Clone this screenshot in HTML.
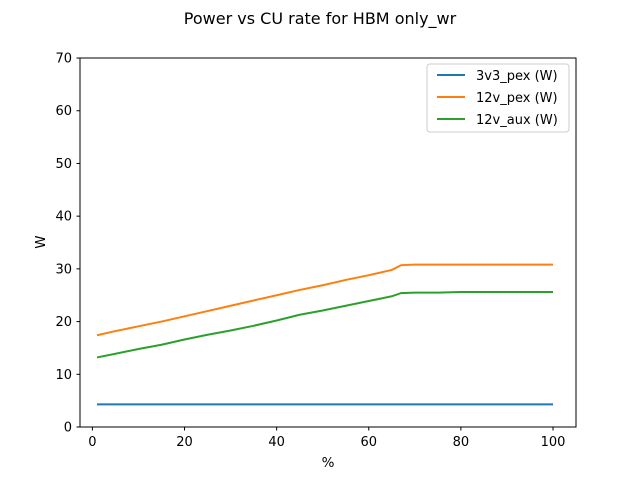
<!DOCTYPE html>
<html><head><meta charset="utf-8"><style>
body{margin:0;background:#fff;}
svg{display:block;font-family:"DejaVu Sans","Liberation Sans",sans-serif;}
</style></head><body>
<svg id="chart" width="640" height="480" viewBox="0 0 640 480">
<rect x="0" y="0" width="640" height="480" fill="#fff"/>
<text x="320" y="24" text-anchor="middle" font-size="16">Power vs CU rate for HBM only_wr</text>
<g id="plot"></g>
<rect x="80" y="58" width="496" height="369" fill="none" stroke="#000" stroke-width="1"/>
<text x="328" y="467" text-anchor="middle" font-size="13.5">%</text>
<text x="45" y="242" text-anchor="middle" font-size="13.5" transform="rotate(-90 45 242)">W</text>
</svg>
<script>
const xs   = [1,5,10,15,20,25,30,35,40,45,50,55,60,65,67,70,75,80,85,90,95,100];
const v3v3 = [4.3,4.3,4.3,4.3,4.3,4.3,4.3,4.3,4.3,4.3,4.3,4.3,4.3,4.3,4.3,4.3,4.3,4.3,4.3,4.3,4.3,4.3];
const v12pex = [17.4,18.2,19.1,20.0,21.0,22.0,23.0,24.0,25.0,26.0,26.9,27.9,28.8,29.8,30.7,30.8,30.8,30.8,30.8,30.8,30.8,30.8];
const v12aux = [13.2,13.9,14.8,15.6,16.6,17.5,18.3,19.2,20.2,21.3,22.1,23.0,23.9,24.8,25.4,25.5,25.5,25.6,25.6,25.6,25.6,25.6];
const xTicks = [0,20,40,60,80,100];
const yTicks = [0,10,20,30,40,50,60,70];
const seriesNames = ["3v3_pex (W)","12v_pex (W)","12v_aux (W)"];
const colors = ["#1f77b4","#ff7f0e","#2ca02c"];

const NS="http://www.w3.org/2000/svg";
const sx = v => 92.4 + 4.606*v;
const sy = v => 427 - 5.271*v;
const g = document.getElementById('plot');
function mk(tag, attrs){const e=document.createElementNS(NS,tag);for(const k in attrs)e.setAttribute(k,attrs[k]);return e;}

xTicks.forEach(t=>{
  const l=mk('line',{x1:sx(t),x2:sx(t),y1:427,y2:430.5,stroke:'#000'});
  
  
  g.appendChild(l);
  const tx=mk('text',{x:sx(t),y:446,'text-anchor':'middle','font-size':'13'});
  
  
  tx.textContent=t; g.appendChild(tx);
});
yTicks.forEach(t=>{
  const l=mk('line',{x1:76.5,x2:80,y1:sy(t),y2:sy(t),stroke:'#000'});
  
  
  g.appendChild(l);
  const tx=mk('text',{x:72,y:sy(t)+4.5,'text-anchor':'end','font-size':'13'});
  
  
  tx.textContent=t; g.appendChild(tx);
});
[v3v3,v12pex,v12aux].forEach((s,i)=>{
  const p=mk('polyline',{points:s.map((v,j)=>sx(xs[j])+','+sy(v)).join(' '),fill:'none',stroke:colors[i],'stroke-width':'2'});
  
  
  g.appendChild(p);
});
const lg=mk('rect',{x:427,y:64,width:142,height:68,rx:3,fill:'#fff','fill-opacity':'0.8',stroke:'#ccc'});


g.appendChild(lg);
seriesNames.forEach((n,i)=>{
  const y=75+22*i;
  const l=mk('line',{x1:437,x2:465,y1:y,y2:y,stroke:colors[i],'stroke-width':'2'});
  
  
  g.appendChild(l);
  const t=mk('text',{x:476,y:y+5,'font-size':'13'});
  
  
  t.textContent=n; g.appendChild(t);
});
</script>
</body></html>
